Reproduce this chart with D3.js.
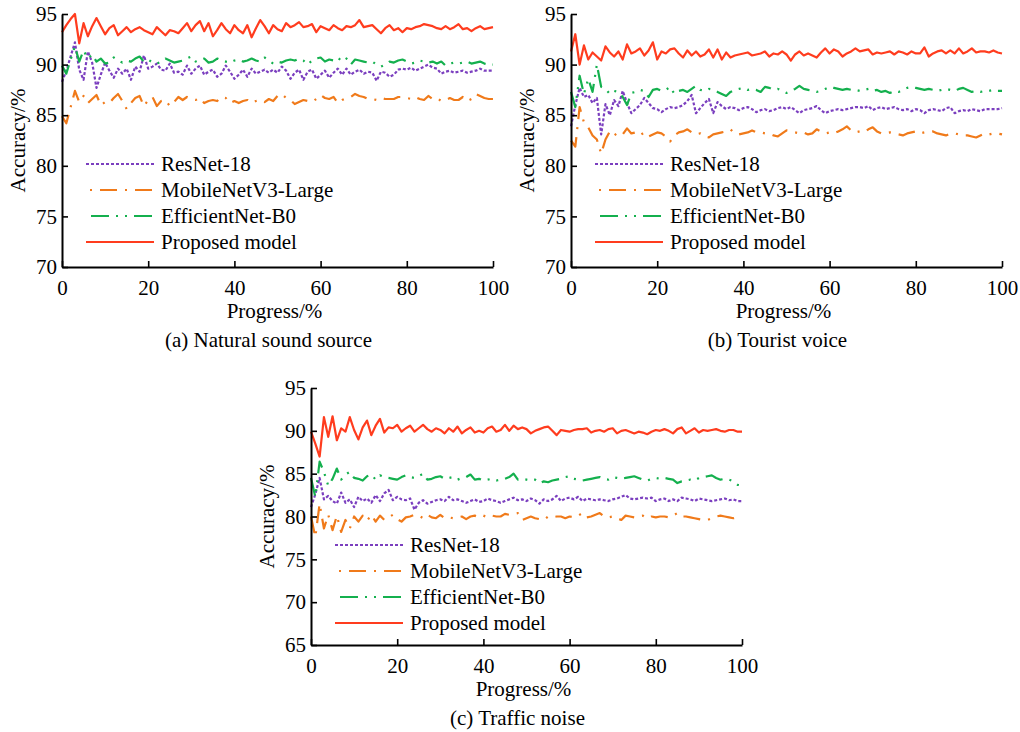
<!DOCTYPE html>
<html>
<head>
<meta charset="utf-8">
<script src="https://cdn.jsdelivr.net/npm/d3@7"></script>
<style>
  html, body { margin: 0; padding: 0; background: #fff; }
  svg { display: block; }
</style>
</head>
<body>
<svg id="chart" width="1020" height="732"></svg>
<script>
// ---- data ------------------------------------------------------------
const progress = d3.range(0, 101);           // training progress, % (one sample per 1 %)
const yTicksAB = [70, 75, 80, 85, 90, 95];
const yTicksC = [65, 70, 75, 80, 85, 90, 95];
const xTicks = [0, 20, 40, 60, 80, 100];
const modelNames = ["ResNet-18", "MobileNetV3-Large", "EfficientNet-B0", "Proposed model"];
const panelTitles = ["(a) Natural sound source", "(b) Tourist voice", "(c) Traffic noise"];

// (a) natural sound source
const naturalResNet = [
  88.3, 89.4, 90.8, 92.2, 89.5, 88.5, 91.3, 90.2, 87.7, 89.0,
  90.2, 89.4, 88.7, 89.6, 89.1, 89.6, 88.5, 89.8, 89.3, 90.9,
  89.6, 89.8, 90.1, 89.5, 89.4, 90.1, 89.2, 89.3, 89.0, 89.9,
  89.1, 89.6, 89.9, 89.0, 89.3, 89.5, 88.8, 89.1, 89.9, 89.3,
  88.6, 89.0, 89.5, 88.8, 89.6, 89.1, 89.3, 89.5, 89.2, 89.5,
  89.2, 89.8, 89.4, 88.6, 89.2, 89.5, 88.5, 89.3, 89.5, 88.6,
  89.0, 89.4, 88.7, 89.2, 89.6, 89.0, 89.6, 89.0, 89.3, 89.5,
  89.1, 89.3, 89.2, 88.4, 89.3, 89.2, 88.8, 89.0, 89.5, 89.6,
  89.5, 89.7, 89.4, 89.6, 89.8, 90.0, 89.7, 89.6, 89.1, 89.3,
  89.4, 89.2, 89.3, 89.4, 89.2, 89.3, 89.4, 89.6, 89.4, 89.4,
  89.4
];
const naturalMobileNet = [
  84.9, 84.2, 85.8, 87.4, 86.3, 86.9, 86.2, 86.6, 87.0, 86.0,
  86.3, 86.2, 86.7, 87.1, 86.4, 85.6, 86.2, 86.7, 86.9, 85.9,
  86.5, 86.8, 85.9, 86.4, 86.5, 85.9, 86.3, 86.8, 86.5, 86.8,
  86.6, 86.5, 86.7, 86.2, 86.4, 86.5, 86.4, 86.8, 86.7, 86.2,
  86.4, 86.2, 86.4, 86.5, 86.2, 86.4, 86.5, 86.3, 86.6, 86.4,
  86.9, 87.1, 86.7, 86.5, 86.1, 86.3, 86.5, 86.4, 86.3, 86.6,
  87.0, 86.7, 86.6, 86.8, 86.2, 86.5, 86.7, 86.8, 87.1, 86.9,
  86.8, 86.6, 86.6, 86.5, 86.7, 86.6, 86.6, 86.6, 86.8, 86.8,
  86.7, 86.6, 86.8, 86.6, 86.5, 86.9, 86.6, 86.7, 86.4, 86.5,
  86.7, 86.5, 86.5, 86.8, 86.4, 86.6, 87.1, 86.9, 86.7, 86.6,
  86.6
];
const naturalEfficientNet = [
  89.9, 89.1, 90.5, 91.8, 90.3, 91.4, 90.6, 91.0, 90.3, 90.6,
  90.1, 90.2, 90.7, 90.4, 90.2, 90.4, 90.3, 90.6, 90.8, 90.3,
  90.5, 90.2, 90.1, 90.3, 90.6, 90.4, 90.2, 90.3, 90.4, 90.6,
  90.8, 90.3, 90.5, 90.6, 90.2, 90.3, 90.6, 90.4, 90.3, 90.2,
  90.4, 90.5, 90.3, 90.4, 90.6, 90.4, 90.3, 90.7, 90.4, 90.1,
  90.3, 90.2, 90.4, 90.5, 90.4, 90.6, 90.4, 90.0, 90.4, 90.6,
  90.7, 90.3, 90.5, 90.4, 90.7, 90.3, 90.6, 90.0, 90.5, 90.4,
  90.3, 90.2, 90.3, 90.0, 89.8, 90.0, 90.3, 90.2, 90.4, 90.5,
  90.3, 90.1, 90.2, 90.4, 90.3, 90.2, 90.3, 90.1, 90.3, 89.9,
  90.1, 90.2, 90.1, 90.2, 90.3, 90.1, 90.2, 90.3, 90.1, 90.0,
  90.0
];
const naturalProposed = [
  93.2, 93.9, 94.5, 95.0, 92.1, 94.1, 92.8, 93.8, 94.6, 93.8,
  93.0, 93.6, 93.9, 92.9, 93.3, 93.7, 93.2, 93.5, 93.7, 93.4,
  93.2, 93.0, 93.7, 93.3, 92.9, 93.4, 93.3, 93.1, 93.6, 94.1,
  93.3, 93.9, 94.3, 93.3, 94.1, 92.8, 93.4, 94.1, 93.5, 93.1,
  93.9, 93.4, 93.1, 93.9, 92.7, 93.6, 94.4, 93.8, 93.1, 93.9,
  93.5, 93.3, 94.1, 93.7, 93.9, 94.2, 93.7, 93.8, 94.0, 93.2,
  93.8, 93.6, 93.4, 93.9, 93.6, 93.4, 93.8, 93.7, 93.9, 94.4,
  93.7, 93.8, 93.9, 93.5, 93.1, 93.6, 93.9, 93.4, 93.6, 93.2,
  93.6, 93.5, 93.7, 93.8, 94.0, 93.9, 93.8, 93.6, 93.5, 93.8,
  93.5, 93.7, 94.0, 93.5, 93.6, 93.3, 93.6, 93.8, 93.5, 93.6,
  93.7
];

// (b) tourist voice
const touristResNet = [
  83.9, 86.0, 87.7, 86.8, 87.0, 86.2, 86.7, 83.1, 86.1, 85.0,
  86.5, 85.9, 87.4, 86.2, 85.2, 85.6, 86.0, 86.7, 86.2, 85.7,
  85.6, 85.3, 85.6, 85.8, 85.7, 85.8, 86.0, 86.4, 87.0, 85.2,
  85.7, 86.2, 86.6, 85.2, 86.3, 85.9, 85.6, 85.8, 85.7, 85.5,
  85.7, 85.8, 85.6, 85.3, 85.5, 85.6, 85.4, 85.5, 85.7, 85.8,
  85.6, 85.8, 85.5, 85.2, 85.5, 85.6, 85.7, 85.9, 85.5, 85.2,
  85.4, 85.5, 85.6, 85.5, 85.6, 85.7, 85.8, 85.8, 85.7, 85.9,
  85.5, 85.7, 85.8, 85.6, 85.7, 85.8, 85.6, 85.5, 85.6, 85.4,
  85.6, 85.5, 85.2, 85.5, 85.6, 85.5, 85.4, 85.7, 85.8, 85.2,
  85.4, 85.5, 85.4, 85.6, 85.5, 85.4, 85.6, 85.6, 85.6, 85.6,
  85.7
];
const touristMobileNet = [
  82.5, 81.9, 85.8, 84.3, 83.8, 83.0, 82.6, 81.2, 82.6, 83.4,
  83.0, 83.3, 83.1, 83.7, 83.2, 83.3, 83.0, 83.3, 82.9, 83.1,
  83.3, 83.2, 82.9, 82.4, 83.0, 83.3, 83.4, 83.6, 83.3, 83.1,
  83.2, 82.9, 82.8, 83.1, 83.2, 83.3, 83.4, 83.6, 83.2, 83.1,
  83.2, 83.3, 83.5, 83.3, 83.3, 83.2, 83.2, 83.0, 82.9, 83.2,
  83.5, 83.4, 83.3, 83.2, 83.3, 83.1, 83.2, 83.6, 83.4, 83.2,
  83.3, 83.2, 83.4, 83.6, 83.9, 83.5, 83.3, 83.4, 83.3, 83.6,
  83.8, 83.4, 83.2, 83.2, 83.3, 83.2, 83.1, 83.0, 83.2, 83.3,
  83.4, 83.2, 83.3, 83.3, 83.4, 83.2, 83.1, 83.0, 83.2, 83.2,
  83.1, 83.0, 83.0, 82.9, 82.8, 83.0, 83.2, 83.1, 83.2, 83.2,
  83.1
];
const touristEfficientNet = [
  87.3, 85.8, 88.9, 87.1, 88.6, 87.3, 90.0, 87.8, 87.6, 87.1,
  87.4, 87.3, 86.8, 86.0, 87.2, 87.3, 87.5, 87.4, 86.8, 87.5,
  87.6, 87.4, 87.5, 87.8, 87.1, 87.4, 87.5, 87.3, 87.6, 87.9,
  87.5, 87.4, 87.6, 87.5, 87.3, 87.1, 86.9, 87.3, 87.5, 87.6,
  87.7, 87.5, 87.6, 87.5, 87.3, 87.8, 87.7, 87.5, 87.6, 87.4,
  87.2, 87.4, 87.6, 87.9, 87.6, 87.5, 87.4, 87.3, 87.4, 87.6,
  87.8, 87.7, 87.6, 87.5, 87.6, 87.5, 87.5, 87.4, 87.5, 87.6,
  87.4, 87.5, 87.3, 87.4, 87.2, 87.4, 87.3, 87.5, 87.7, 87.8,
  87.7, 87.6, 87.5, 87.6, 87.5, 87.4, 87.5, 87.6, 87.5, 87.4,
  87.6, 87.7, 87.5, 87.3, 87.4, 87.3, 87.4, 87.4, 87.5, 87.4,
  87.4
];
const touristProposed = [
  91.3, 93.0, 90.0, 91.9, 90.5, 91.2, 90.8, 90.4, 91.8, 91.2,
  90.8, 91.3, 90.5, 92.0, 91.1, 91.3, 91.6, 90.9, 91.4, 92.2,
  90.5, 91.3, 91.1, 91.5, 91.6, 91.1, 90.7, 91.4, 90.9, 91.3,
  90.8, 91.0, 91.5, 90.7, 91.5, 90.5, 91.2, 90.7, 90.9, 91.0,
  91.1, 91.2, 90.9, 91.0, 91.1, 91.3, 90.8, 91.1, 91.0, 91.3,
  91.0, 90.4, 91.0, 91.3, 90.9, 91.1, 90.9, 90.7, 91.2, 91.6,
  91.1, 91.5, 91.3, 90.8, 91.1, 91.3, 91.6, 91.3, 91.4, 91.5,
  91.0, 91.2, 91.1, 91.2, 91.3, 91.0, 91.3, 91.2, 91.0, 91.3,
  91.1, 91.1, 91.7, 90.8, 91.1, 91.3, 91.4, 91.1, 91.4, 91.1,
  91.6, 91.1, 91.3, 91.6, 91.2, 91.3, 91.3, 91.2, 91.4, 91.2,
  91.1
];

// (c) traffic noise
const trafficResNet = [
  81.1, 82.6, 84.5, 82.0, 82.4, 81.8, 81.5, 82.8, 81.6, 82.0,
  81.1, 82.3, 81.8, 82.1, 81.6, 82.5, 81.8, 82.7, 83.1, 81.9,
  82.3, 82.0, 81.9, 82.1, 80.8, 81.6, 81.9, 81.5, 81.7, 81.9,
  82.0, 81.8, 82.3, 81.9, 82.0, 81.8, 81.6, 81.8, 82.0, 81.7,
  81.8, 82.1, 81.9, 81.8, 81.6, 81.8, 82.0, 82.2, 81.9, 82.0,
  81.8, 82.1, 81.9, 81.5, 82.0, 81.8, 82.0, 82.4, 81.8, 82.1,
  82.2, 82.0, 82.3, 81.8, 82.1, 82.0, 81.9, 82.0, 81.9, 81.8,
  82.0, 82.1, 82.3, 82.5, 82.1, 82.0, 82.1, 82.2, 82.1, 82.2,
  81.8, 82.0, 82.1, 81.8, 82.0, 81.8, 82.2, 82.1, 82.0, 81.8,
  82.1, 82.0, 81.9, 81.8, 81.9, 82.0, 82.1, 81.9, 82.0, 81.8,
  81.8
];
const trafficMobileNet = [
  80.0, 77.6, 81.5, 78.6, 80.2, 78.4, 80.1, 78.2, 79.6, 78.6,
  80.0, 79.4, 80.1, 79.5, 80.2, 79.4, 80.1, 79.6, 79.9, 80.2,
  79.7, 79.4, 79.9, 80.0, 80.2, 80.1, 79.8, 80.2, 79.9, 79.8,
  80.2, 79.8, 79.9, 79.8, 79.9, 80.0, 79.7, 80.0, 80.1, 79.9,
  80.1, 79.9, 80.1, 80.0, 80.0, 80.3, 80.2, 80.3, 80.4, 79.6,
  79.8, 80.0, 79.8, 79.7, 79.6, 80.0, 79.9, 80.0, 80.0, 79.8,
  80.0, 79.9, 80.1, 80.4, 79.9, 80.0, 80.2, 80.4, 80.0, 79.9,
  80.0, 79.8, 79.6, 80.1, 80.0, 79.9, 80.0, 80.1, 79.8, 80.0,
  79.9, 80.0, 80.0, 79.9, 80.1, 80.4, 80.0, 80.0, 79.9, 79.8,
  79.7, 79.6, 79.6, 79.8, 80.0, 80.1, 80.0, 79.9, 79.8, 79.9,
  79.9
];
const trafficEfficientNet = [
  84.5, 82.3, 86.4, 85.2, 83.6, 84.4, 85.6, 84.3, 84.9, 85.2,
  84.5, 84.4, 84.2, 84.7, 84.9, 84.3, 84.8, 84.6, 84.5, 84.4,
  84.3, 84.6, 84.8, 84.6, 84.5, 84.7, 85.0, 84.3, 84.4, 84.6,
  84.7, 84.4, 84.5, 84.6, 84.3, 84.5, 84.6, 84.9, 84.3, 84.4,
  84.2, 84.3, 84.4, 84.2, 84.3, 84.4, 84.6, 85.0, 84.3, 84.4,
  84.3, 84.2, 84.3, 83.9, 84.1, 84.0, 84.2, 84.3, 84.4, 84.6,
  84.7, 84.4, 84.3, 84.2, 84.3, 84.4, 84.5, 84.6, 84.4, 84.3,
  84.6, 84.5, 84.4, 84.5, 84.6, 84.7, 84.5, 84.3, 84.2, 84.4,
  84.5, 84.4, 84.5, 84.4, 84.3, 83.9, 84.1, 84.2, 84.3, 84.2,
  84.5, 84.6, 84.7, 84.8, 84.5, 84.3, 84.4, 84.3, 84.1, 83.7,
  83.6
];
const trafficProposed = [
  89.9, 88.5, 87.0, 91.6, 89.3, 91.7, 88.9, 90.3, 89.9, 91.6,
  90.1, 89.0, 90.4, 91.2, 89.5, 90.6, 91.4, 89.8, 90.4, 90.3,
  90.7, 89.9, 90.3, 90.6, 89.9, 90.3, 90.7, 90.2, 89.9, 90.3,
  90.1, 89.7, 90.3, 89.9, 90.5, 89.7, 90.1, 90.4, 89.8, 90.0,
  89.8, 90.3, 90.5, 89.9, 90.1, 90.7, 90.0, 90.6, 90.2, 90.4,
  90.2, 89.7, 90.0, 90.2, 90.4, 90.5, 90.0, 89.5, 90.1, 90.0,
  89.9, 90.1, 90.2, 90.2, 90.3, 89.8, 90.0, 90.1, 89.9, 90.2,
  90.3, 89.7, 90.0, 90.1, 89.9, 89.7, 89.9, 89.8, 89.6, 89.9,
  90.1, 90.0, 90.2, 90.0, 89.7, 90.2, 90.4, 89.7, 90.0, 90.3,
  89.8, 90.1, 90.0, 90.1, 90.2, 90.0, 89.9, 90.1, 90.1, 89.9,
  89.9
];

// ---- appearance ------------------------------------------------------
const FONT = "'Liberation Serif', 'Times New Roman', serif";
const seriesStyle = [
  { color: "#7b3fbf", dash: "3,2",            legendOffset: 0 },   // ResNet-18: dotted
  { color: "#f07a1a", dash: "17,8,2,8",       legendOffset: 21 },  // MobileNetV3: dash-dot
  { color: "#14b04e", dash: "18,7,2,7,2,7",   legendOffset: 38 },  // EfficientNet: dash-dot-dot
  { color: "#ff3c1e", dash: null,             legendOffset: 0 }    // proposed: solid
];

const panels = [
  { x0: 62,  x1: 493, yTop: 14,  yBot: 267, yDomain: [70, 95], yTicks: yTicksAB, legendY: 164,
    title: panelTitles[0], series: [naturalResNet, naturalMobileNet, naturalEfficientNet, naturalProposed] },
  { x0: 571, x1: 1002, yTop: 14, yBot: 267, yDomain: [70, 95], yTicks: yTicksAB, legendY: 164,
    title: panelTitles[1], series: [touristResNet, touristMobileNet, touristEfficientNet, touristProposed] },
  { x0: 311, x1: 742, yTop: 388, yBot: 645, yDomain: [65, 95], yTicks: yTicksC, legendY: 545,
    title: panelTitles[2], series: [trafficResNet, trafficMobileNet, trafficEfficientNet, trafficProposed] }
];

// ---- drawing ---------------------------------------------------------
const svg = d3.select("#chart");

panels.forEach(p => {
  const g = svg.append("g");
  const x = d3.scaleLinear().domain([0, 100]).range([p.x0, p.x1]);
  const y = d3.scaleLinear().domain(p.yDomain).range([p.yBot, p.yTop]);

  // data lines
  const line = d3.line()
    .x((d, i) => x(progress[i]))
    .y(d => y(d));

  p.series.forEach((values, k) => {
    const s = seriesStyle[k];
    g.append("path")
      .datum(values)
      .attr("d", line)
      .attr("fill", "none")
      .attr("stroke", s.color)
      .attr("stroke-width", 2.2)
      .attr("stroke-linejoin", "round")
      .attr("stroke-dasharray", s.dash);
  });

  // y axis, ticks pointing inward
  const yAxis = g.append("g")
    .attr("transform", `translate(${p.x0},0)`)
    .call(d3.axisLeft(y).tickValues(p.yTicks).tickSizeInner(-6).tickSizeOuter(0).tickPadding(5));

  // x axis, ticks pointing inward
  const xAxis = g.append("g")
    .attr("transform", `translate(0,${p.yBot})`)
    .call(d3.axisBottom(x).tickValues(xTicks).tickSizeInner(-6).tickSizeOuter(0).tickPadding(13));

  [yAxis, xAxis].forEach(ax => {
    ax.attr("font-family", FONT).attr("font-size", 21);
    ax.select(".domain").attr("stroke", "#000").attr("stroke-width", 2);
    ax.selectAll(".tick line").attr("stroke", "#000").attr("stroke-width", 1.6);
    ax.selectAll(".tick text").attr("fill", "#000");
  });

  // axis titles
  const midX = (p.x0 + p.x1) / 2;
  g.append("text")
    .attr("x", midX - 3).attr("y", p.yBot + 51)
    .attr("text-anchor", "middle")
    .attr("font-family", FONT).attr("font-size", 21)
    .text("Progress/%");

  g.append("text")
    .attr("transform", `translate(${p.x0 - 37},${(p.yTop + p.yBot) / 2}) rotate(-90)`)
    .attr("text-anchor", "middle")
    .attr("font-family", FONT).attr("font-size", 21)
    .text("Accuracy/%");

  // panel caption
  g.append("text")
    .attr("x", midX - 9).attr("y", p.yBot + 80)
    .attr("text-anchor", "middle")
    .attr("font-family", FONT).attr("font-size", 21)
    .text(p.title);

  // legend
  const legend = g.append("g");
  modelNames.forEach((name, k) => {
    const s = seriesStyle[k];
    const ly = p.legendY + k * 26;
    legend.append("line")
      .attr("x1", p.x0 + 24).attr("x2", p.x0 + 92)
      .attr("y1", ly).attr("y2", ly)
      .attr("stroke", s.color)
      .attr("stroke-width", 2.2)
      .attr("stroke-dasharray", s.dash)
      .attr("stroke-dashoffset", s.legendOffset);
    legend.append("text")
      .attr("x", p.x0 + 99).attr("y", ly + 7)
      .attr("font-family", FONT).attr("font-size", 21)
      .text(name);
  });
});
</script>
</body>
</html>
